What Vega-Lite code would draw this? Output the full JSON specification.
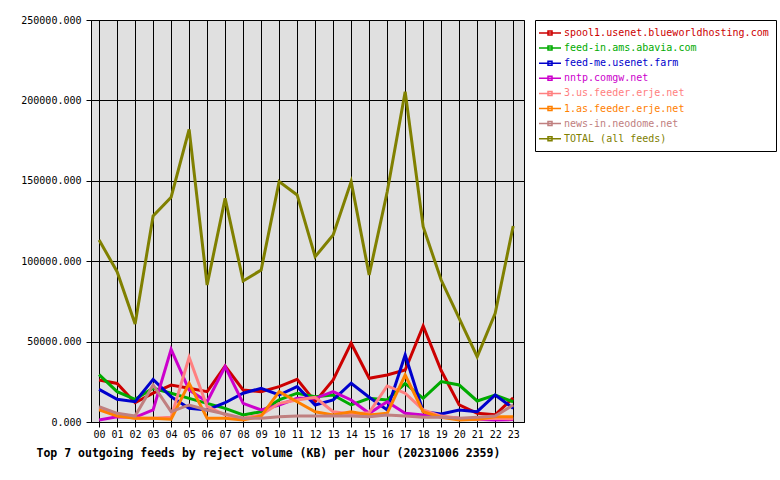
{
  "$schema": "https://vega.github.io/schema/vega-lite/v6.json",
  "width": 433,
  "height": 402,
  "autosize": {"type": "none"},
  "padding": {"left": 91, "top": 20, "right": 256, "bottom": 58},
  "background": "white",
  "config": {"view": {"fill": "#e0e0e0", "stroke": "black", "strokeWidth": 1}, "font": "DejaVu Sans Mono"},
  "datasets": {
    "feeds": [
      {"hour":0,"feed":"spool1.usenet.blueworldhosting.com","kb":26100},{"hour":1,"feed":"spool1.usenet.blueworldhosting.com","kb":24000},{"hour":2,"feed":"spool1.usenet.blueworldhosting.com","kb":12000},{"hour":3,"feed":"spool1.usenet.blueworldhosting.com","kb":18000},{"hour":4,"feed":"spool1.usenet.blueworldhosting.com","kb":23000},{"hour":5,"feed":"spool1.usenet.blueworldhosting.com","kb":21000},{"hour":6,"feed":"spool1.usenet.blueworldhosting.com","kb":18900},{"hour":7,"feed":"spool1.usenet.blueworldhosting.com","kb":34800},{"hour":8,"feed":"spool1.usenet.blueworldhosting.com","kb":19900},{"hour":9,"feed":"spool1.usenet.blueworldhosting.com","kb":18900},{"hour":10,"feed":"spool1.usenet.blueworldhosting.com","kb":22000},{"hour":11,"feed":"spool1.usenet.blueworldhosting.com","kb":26500},{"hour":12,"feed":"spool1.usenet.blueworldhosting.com","kb":12600},{"hour":13,"feed":"spool1.usenet.blueworldhosting.com","kb":26100},{"hour":14,"feed":"spool1.usenet.blueworldhosting.com","kb":49000},{"hour":15,"feed":"spool1.usenet.blueworldhosting.com","kb":27200},{"hour":16,"feed":"spool1.usenet.blueworldhosting.com","kb":29200},{"hour":17,"feed":"spool1.usenet.blueworldhosting.com","kb":32300},{"hour":18,"feed":"spool1.usenet.blueworldhosting.com","kb":59700},{"hour":19,"feed":"spool1.usenet.blueworldhosting.com","kb":32000},{"hour":20,"feed":"spool1.usenet.blueworldhosting.com","kb":10600},{"hour":21,"feed":"spool1.usenet.blueworldhosting.com","kb":5400},{"hour":22,"feed":"spool1.usenet.blueworldhosting.com","kb":4500},{"hour":23,"feed":"spool1.usenet.blueworldhosting.com","kb":15000},
      {"hour":0,"feed":"feed-in.ams.abavia.com","kb":29500},{"hour":1,"feed":"feed-in.ams.abavia.com","kb":18900},{"hour":2,"feed":"feed-in.ams.abavia.com","kb":14100},{"hour":3,"feed":"feed-in.ams.abavia.com","kb":21000},{"hour":4,"feed":"feed-in.ams.abavia.com","kb":17900},{"hour":5,"feed":"feed-in.ams.abavia.com","kb":14700},{"hour":6,"feed":"feed-in.ams.abavia.com","kb":11600},{"hour":7,"feed":"feed-in.ams.abavia.com","kb":8500},{"hour":8,"feed":"feed-in.ams.abavia.com","kb":4400},{"hour":9,"feed":"feed-in.ams.abavia.com","kb":6400},{"hour":10,"feed":"feed-in.ams.abavia.com","kb":13700},{"hour":11,"feed":"feed-in.ams.abavia.com","kb":17900},{"hour":12,"feed":"feed-in.ams.abavia.com","kb":15700},{"hour":13,"feed":"feed-in.ams.abavia.com","kb":16800},{"hour":14,"feed":"feed-in.ams.abavia.com","kb":10600},{"hour":15,"feed":"feed-in.ams.abavia.com","kb":14700},{"hour":16,"feed":"feed-in.ams.abavia.com","kb":13700},{"hour":17,"feed":"feed-in.ams.abavia.com","kb":24000},{"hour":18,"feed":"feed-in.ams.abavia.com","kb":14700},{"hour":19,"feed":"feed-in.ams.abavia.com","kb":25100},{"hour":20,"feed":"feed-in.ams.abavia.com","kb":23000},{"hour":21,"feed":"feed-in.ams.abavia.com","kb":13100},{"hour":22,"feed":"feed-in.ams.abavia.com","kb":16800},{"hour":23,"feed":"feed-in.ams.abavia.com","kb":12600},
      {"hour":0,"feed":"feed-me.usenet.farm","kb":20300},{"hour":1,"feed":"feed-me.usenet.farm","kb":14100},{"hour":2,"feed":"feed-me.usenet.farm","kb":12600},{"hour":3,"feed":"feed-me.usenet.farm","kb":26500},{"hour":4,"feed":"feed-me.usenet.farm","kb":15700},{"hour":5,"feed":"feed-me.usenet.farm","kb":8500},{"hour":6,"feed":"feed-me.usenet.farm","kb":7500},{"hour":7,"feed":"feed-me.usenet.farm","kb":12000},{"hour":8,"feed":"feed-me.usenet.farm","kb":17900},{"hour":9,"feed":"feed-me.usenet.farm","kb":21000},{"hour":10,"feed":"feed-me.usenet.farm","kb":16800},{"hour":11,"feed":"feed-me.usenet.farm","kb":22000},{"hour":12,"feed":"feed-me.usenet.farm","kb":10600},{"hour":13,"feed":"feed-me.usenet.farm","kb":13700},{"hour":14,"feed":"feed-me.usenet.farm","kb":24100},{"hour":15,"feed":"feed-me.usenet.farm","kb":15400},{"hour":16,"feed":"feed-me.usenet.farm","kb":7500},{"hour":17,"feed":"feed-me.usenet.farm","kb":41700},{"hour":18,"feed":"feed-me.usenet.farm","kb":6400},{"hour":19,"feed":"feed-me.usenet.farm","kb":5000},{"hour":20,"feed":"feed-me.usenet.farm","kb":7500},{"hour":21,"feed":"feed-me.usenet.farm","kb":6400},{"hour":22,"feed":"feed-me.usenet.farm","kb":16800},{"hour":23,"feed":"feed-me.usenet.farm","kb":8500},
      {"hour":0,"feed":"nntp.comgw.net","kb":1200},{"hour":1,"feed":"nntp.comgw.net","kb":3300},{"hour":2,"feed":"nntp.comgw.net","kb":2900},{"hour":3,"feed":"nntp.comgw.net","kb":7500},{"hour":4,"feed":"nntp.comgw.net","kb":45200},{"hour":5,"feed":"nntp.comgw.net","kb":19900},{"hour":6,"feed":"nntp.comgw.net","kb":12600},{"hour":7,"feed":"nntp.comgw.net","kb":34400},{"hour":8,"feed":"nntp.comgw.net","kb":11600},{"hour":9,"feed":"nntp.comgw.net","kb":7500},{"hour":10,"feed":"nntp.comgw.net","kb":10600},{"hour":11,"feed":"nntp.comgw.net","kb":14700},{"hour":12,"feed":"nntp.comgw.net","kb":14700},{"hour":13,"feed":"nntp.comgw.net","kb":18900},{"hour":14,"feed":"nntp.comgw.net","kb":13700},{"hour":15,"feed":"nntp.comgw.net","kb":5400},{"hour":16,"feed":"nntp.comgw.net","kb":12600},{"hour":17,"feed":"nntp.comgw.net","kb":5400},{"hour":18,"feed":"nntp.comgw.net","kb":4400},{"hour":19,"feed":"nntp.comgw.net","kb":3300},{"hour":20,"feed":"nntp.comgw.net","kb":2300},{"hour":21,"feed":"nntp.comgw.net","kb":1700},{"hour":22,"feed":"nntp.comgw.net","kb":1200},{"hour":23,"feed":"nntp.comgw.net","kb":1500},
      {"hour":0,"feed":"3.us.feeder.erje.net","kb":8500},{"hour":1,"feed":"3.us.feeder.erje.net","kb":4400},{"hour":2,"feed":"3.us.feeder.erje.net","kb":2300},{"hour":3,"feed":"3.us.feeder.erje.net","kb":2300},{"hour":4,"feed":"3.us.feeder.erje.net","kb":2900},{"hour":5,"feed":"3.us.feeder.erje.net","kb":40200},{"hour":6,"feed":"3.us.feeder.erje.net","kb":9500},{"hour":7,"feed":"3.us.feeder.erje.net","kb":4400},{"hour":8,"feed":"3.us.feeder.erje.net","kb":2300},{"hour":9,"feed":"3.us.feeder.erje.net","kb":4400},{"hour":10,"feed":"3.us.feeder.erje.net","kb":11600},{"hour":11,"feed":"3.us.feeder.erje.net","kb":13700},{"hour":12,"feed":"3.us.feeder.erje.net","kb":15400},{"hour":13,"feed":"3.us.feeder.erje.net","kb":6400},{"hour":14,"feed":"3.us.feeder.erje.net","kb":5000},{"hour":15,"feed":"3.us.feeder.erje.net","kb":5800},{"hour":16,"feed":"3.us.feeder.erje.net","kb":22400},{"hour":17,"feed":"3.us.feeder.erje.net","kb":17900},{"hour":18,"feed":"3.us.feeder.erje.net","kb":7500},{"hour":19,"feed":"3.us.feeder.erje.net","kb":3700},{"hour":20,"feed":"3.us.feeder.erje.net","kb":2300},{"hour":21,"feed":"3.us.feeder.erje.net","kb":1700},{"hour":22,"feed":"3.us.feeder.erje.net","kb":2300},{"hour":23,"feed":"3.us.feeder.erje.net","kb":2000},
      {"hour":0,"feed":"1.as.feeder.erje.net","kb":7500},{"hour":1,"feed":"1.as.feeder.erje.net","kb":3700},{"hour":2,"feed":"1.as.feeder.erje.net","kb":2300},{"hour":3,"feed":"1.as.feeder.erje.net","kb":2300},{"hour":4,"feed":"1.as.feeder.erje.net","kb":1700},{"hour":5,"feed":"1.as.feeder.erje.net","kb":24100},{"hour":6,"feed":"1.as.feeder.erje.net","kb":2300},{"hour":7,"feed":"1.as.feeder.erje.net","kb":2300},{"hour":8,"feed":"1.as.feeder.erje.net","kb":1200},{"hour":9,"feed":"1.as.feeder.erje.net","kb":3700},{"hour":10,"feed":"1.as.feeder.erje.net","kb":18900},{"hour":11,"feed":"1.as.feeder.erje.net","kb":12600},{"hour":12,"feed":"1.as.feeder.erje.net","kb":6400},{"hour":13,"feed":"1.as.feeder.erje.net","kb":4400},{"hour":14,"feed":"1.as.feeder.erje.net","kb":6400},{"hour":15,"feed":"1.as.feeder.erje.net","kb":4400},{"hour":16,"feed":"1.as.feeder.erje.net","kb":5400},{"hour":17,"feed":"1.as.feeder.erje.net","kb":29200},{"hour":18,"feed":"1.as.feeder.erje.net","kb":6400},{"hour":19,"feed":"1.as.feeder.erje.net","kb":2900},{"hour":20,"feed":"1.as.feeder.erje.net","kb":1200},{"hour":21,"feed":"1.as.feeder.erje.net","kb":1700},{"hour":22,"feed":"1.as.feeder.erje.net","kb":3300},{"hour":23,"feed":"1.as.feeder.erje.net","kb":3300},
      {"hour":0,"feed":"news-in.neodome.net","kb":9500},{"hour":1,"feed":"news-in.neodome.net","kb":5400},{"hour":2,"feed":"news-in.neodome.net","kb":3700},{"hour":3,"feed":"news-in.neodome.net","kb":23000},{"hour":4,"feed":"news-in.neodome.net","kb":6400},{"hour":5,"feed":"news-in.neodome.net","kb":10600},{"hour":6,"feed":"news-in.neodome.net","kb":7500},{"hour":7,"feed":"news-in.neodome.net","kb":5000},{"hour":8,"feed":"news-in.neodome.net","kb":2300},{"hour":9,"feed":"news-in.neodome.net","kb":2300},{"hour":10,"feed":"news-in.neodome.net","kb":3300},{"hour":11,"feed":"news-in.neodome.net","kb":3700},{"hour":12,"feed":"news-in.neodome.net","kb":3700},{"hour":13,"feed":"news-in.neodome.net","kb":3700},{"hour":14,"feed":"news-in.neodome.net","kb":3700},{"hour":15,"feed":"news-in.neodome.net","kb":3300},{"hour":16,"feed":"news-in.neodome.net","kb":4400},{"hour":17,"feed":"news-in.neodome.net","kb":3700},{"hour":18,"feed":"news-in.neodome.net","kb":2900},{"hour":19,"feed":"news-in.neodome.net","kb":2900},{"hour":20,"feed":"news-in.neodome.net","kb":2300},{"hour":21,"feed":"news-in.neodome.net","kb":2900},{"hour":22,"feed":"news-in.neodome.net","kb":3700},{"hour":23,"feed":"news-in.neodome.net","kb":10600},
      {"hour":0,"feed":"TOTAL (all feeds)","kb":113200},{"hour":1,"feed":"TOTAL (all feeds)","kb":93500},{"hour":2,"feed":"TOTAL (all feeds)","kb":61000},{"hour":3,"feed":"TOTAL (all feeds)","kb":128100},{"hour":4,"feed":"TOTAL (all feeds)","kb":139800},{"hour":5,"feed":"TOTAL (all feeds)","kb":182000},{"hour":6,"feed":"TOTAL (all feeds)","kb":85200},{"hour":7,"feed":"TOTAL (all feeds)","kb":139100},{"hour":8,"feed":"TOTAL (all feeds)","kb":87700},{"hour":9,"feed":"TOTAL (all feeds)","kb":94500},{"hour":10,"feed":"TOTAL (all feeds)","kb":149500},{"hour":11,"feed":"TOTAL (all feeds)","kb":141200},{"hour":12,"feed":"TOTAL (all feeds)","kb":102800},{"hour":13,"feed":"TOTAL (all feeds)","kb":116300},{"hour":14,"feed":"TOTAL (all feeds)","kb":149500},{"hour":15,"feed":"TOTAL (all feeds)","kb":91400},{"hour":16,"feed":"TOTAL (all feeds)","kb":143000},{"hour":17,"feed":"TOTAL (all feeds)","kb":205400},{"hour":18,"feed":"TOTAL (all feeds)","kb":121500},{"hour":19,"feed":"TOTAL (all feeds)","kb":88300},{"hour":20,"feed":"TOTAL (all feeds)","kb":64500},{"hour":21,"feed":"TOTAL (all feeds)","kb":40600},{"hour":22,"feed":"TOTAL (all feeds)","kb":67600},{"hour":23,"feed":"TOTAL (all feeds)","kb":121900}
    ]
  },
  "data": {"name": "feeds"},
  "mark": {"type": "line", "strokeWidth": 3, "strokeJoin": "miter"},
  "encoding": {
    "x": {
      "field": "hour", "type": "quantitative",
      "scale": {"domain": [-0.45, 23.6], "nice": false, "zero": false},
      "axis": {
        "values": [0,1,2,3,4,5,6,7,8,9,10,11,12,13,14,15,16,17,18,19,20,21,22,23],
        "labelExpr": "datum.value < 10 ? '0' + datum.value : '' + datum.value",
        "grid": true, "gridColor": "black", "gridOpacity": 1, "gridWidth": 1,
        "tickColor": "black", "tickSize": 5, "tickWidth": 1, "domainColor": "black", "domainWidth": 1,
        "labelFont": "DejaVu Sans Mono", "labelFontSize": 10, "labelColor": "black", "labelPadding": 2,
        "labelFlush": false, "labelOverlap": false,
        "title": "Top 7 outgoing feeds by reject volume (KB) per hour (20231006 2359)",
        "titleFont": "DejaVu Sans Mono", "titleFontWeight": "bold", "titleFontSize": 11.5, "titleColor": "black",
        "titleX": -55, "titleY": 34, "titleAlign": "left", "titleAnchor": "start", "titleBaseline": "alphabetic"
      }
    },
    "y": {
      "field": "kb", "type": "quantitative",
      "scale": {"domain": [0, 250000], "nice": false},
      "axis": {
        "values": [0, 50000, 100000, 150000, 200000, 250000],
        "format": ".3f",
        "grid": true, "gridColor": "black", "gridOpacity": 1, "gridWidth": 1,
        "tickColor": "black", "tickSize": 5, "tickWidth": 1, "domainColor": "black", "domainWidth": 1,
        "labelFont": "DejaVu Sans Mono", "labelFontSize": 10, "labelColor": "black", "labelPadding": 5,
        "labelFlush": false, "labelOverlap": false, "title": null
      }
    },
    "color": {
      "field": "feed", "type": "nominal",
      "scale": {
        "domain": ["spool1.usenet.blueworldhosting.com", "feed-in.ams.abavia.com", "feed-me.usenet.farm", "nntp.comgw.net", "3.us.feeder.erje.net", "1.as.feeder.erje.net", "news-in.neodome.net", "TOTAL (all feeds)"],
        "range": ["#cc0000", "#00aa00", "#0000cc", "#cc00cc", "#ff8080", "#ff8000", "#c08080", "#808000"]
      },
      "legend": {
        "orient": "none", "legendX": 444, "legendY": 0, "title": null,
        "strokeColor": "black", "fillColor": "white", "padding": 7,
        "symbolType": "M-2.2,0H2.2M-0.4,-0.4H0.4V0.4H-0.4Z", "symbolSize": 100, "symbolStrokeWidth": 1.5,
        "symbolFillColor": "white", "symbolOffset": 2, "labelOffset": 8,
        "labelFont": "DejaVu Sans Mono", "labelFontSize": 10, "labelLimit": 0, "rowPadding": 4.1,
        "encode": {"labels": {"update": {"fill": {"scale": "color", "field": "value"}}}}
      }
    }
  }
}
